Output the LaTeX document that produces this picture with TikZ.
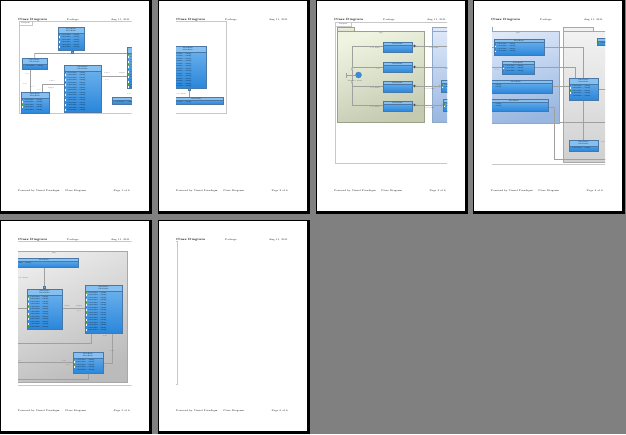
\documentclass[tikz,border=0pt]{standalone}
\usetikzlibrary{arrows.meta,shapes.geometric}
\definecolor{bgC}{HTML}{808080}
\definecolor{frameC}{HTML}{C8C8C8}
\definecolor{connC}{HTML}{A0A0A0}
\definecolor{clsB}{HTML}{4A78A6}
\definecolor{clsT}{HTML}{70B4EE}
\definecolor{clsBt}{HTML}{2A86DA}
\definecolor{clsH}{HTML}{86C0F0}
\definecolor{icoG}{HTML}{3AA040}
\definecolor{grnT}{HTML}{EEF4E0}
\definecolor{grnB}{HTML}{C4CAB0}
\definecolor{grnD}{HTML}{9AA08A}
\definecolor{bluT}{HTML}{DDE8F8}
\definecolor{bluB}{HTML}{98B6E0}
\definecolor{bluD}{HTML}{8FA8C8}
\definecolor{gryT}{HTML}{F2F2F2}
\definecolor{gryB}{HTML}{D0D0D0}
\definecolor{gryD}{HTML}{A8A8A8}
\definecolor{ballC}{HTML}{3A8AD8}
\tikzset{
 hdr/.style={font=\fontsize{3}{3.2}\selectfont\bfseries, inner sep=0},
 ftr/.style={font=\fontsize{2.4}{3}\selectfont, inner sep=0},
 tinytxt/.style={font=\fontsize{1.6}{2}\selectfont, inner sep=0},
 lbl/.style={font=\fontsize{1.6}{2}\selectfont, inner sep=0, text=black!75},
 frameline/.style={draw=frameC, line width=0.8},
 conn/.style={draw=connC, line width=0.6},
 clsnode/.style={draw=clsB, line width=0.5, top color=clsT, bottom color=clsBt, inner sep=0, rectangle},
 symb/.style={fill=clsT, draw=clsB, line width=0.3, inner sep=0, minimum size=2},
 tabbox/.style={draw=frameC, fill=white, line width=0.5, inner sep=0, anchor=north west, font=\fontsize{1.6}{2}\selectfont},
}
\newcommand{\umlclass}[7]{%
 \node[clsnode, anchor=north west, minimum width={#4-#2}, minimum height={#5-#3}] (#1) at (#2,#3) {};
 \pgfmathsetmacro\clshbot{#3+#6*2.6+1}
 \fill[clsH] (#2,#3) rectangle (#4,\clshbot);
 \draw[clsB, line width=0.4] (#2,\clshbot) -- (#4,\clshbot);
 \draw[clsB, line width=0.5] (#1.north west) rectangle (#1.south east);
 \foreach \i in {1,...,#6}{\node[tinytxt] at ({(#2+#4)/2},{#3+0.5+(\i-0.5)*2.6}) {ClassName};}
 \ifnum#7>0
 \foreach \i in {1,...,#7}{
   \ifodd\i \fill[icoG] (#2+0.8,{\clshbot+0.6+(\i-1)*2.5}) rectangle ++(1.3,1.6);
   \else \fill[white] (#2+0.8,{\clshbot+0.6+(\i-1)*2.5}) rectangle ++(1.3,1.6); \fi
   \node[tinytxt,anchor=west] at (#2+2.8,{\clshbot+1.4+(\i-1)*2.5}) {+attribute : String};}
 \fi
}
\begin{document}
\begin{tikzpicture}[x=1pt,y=-1pt]
\fill[bgC] (0,0) rectangle (626,434);
\useasboundingbox (0,0) rectangle (626,434);
% pages
\foreach \px/\py/\n in {1/1/1,159/1/2,317/1/3,474/1/4,1/221/5,159/221/6}{
  \fill[black] (\px-1,\py-1) rectangle (\px+151,\py+213);
  \fill[white] (\px,\py) rectangle (\px+148,\py+210);
  \node[hdr,anchor=west] (hl\n) at (\px+17,\py+18.6) {Class Diagram};
  \node[ftr,anchor=west] (hm\n) at (\px+66,\py+18.8) {Package};
  \node[ftr,anchor=east] (hr\n) at (\px+129,\py+18.8) {Aug 11, 2011};
  \node[ftr,anchor=west] (fl\n) at (\px+17,\py+190) {Powered by Visual Paradigm};
  \node[ftr,anchor=west] (fm\n) at (\px+64,\py+190) {Class Diagram};
  \node[ftr,anchor=east] (fr\n) at (\px+129,\py+190) {Page \n\ of 6};
}
% ================= page 1
\begin{scope}
\clip (18,20) rectangle (131.5,200);
\draw[frameline] (19,21) rectangle (160,113);
\node[tabbox, minimum width=13, minimum height=4] (tab1) at (19,21) {Diagram};
\umlclass{A}{58}{27}{84}{50}{2}{6}
\umlclass{B}{22}{58}{47}{69}{2}{1}
\umlclass{C}{64}{65}{101}{112}{2}{16}
\umlclass{D}{21}{92}{49}{113}{2}{5}
\umlclass{E}{127}{47}{160}{88}{2}{14}
\umlclass{F}{112}{97}{160}{104}{1}{1}
\coordinate (a1) at (72,53.5);
\draw[conn] (A.south) -- (a1) -| (B.north);
\draw[conn] (a1) -- (a1 -| E.west);
\node[symb] (s1) at (72,52) {};
\draw[conn] (B.south -| 30,0) -- (D.north -| 30,0);
\draw[conn] (C.west |- 0,84) -- (42,84) -- (D.north -| 42,0);
\draw[conn] (C.east |- 0,76) -- (E.west |- 0,76);
\node[lbl] at (27,74) {0..1};
\node[lbl] at (25,84) {role};
\node[lbl] at (32,87) {0..*};
\node[lbl] at (52,81) {source};
\node[lbl] at (51,88) {target};
\node[lbl] at (39,90) {0..*};
\node[lbl] at (107,73) {source};
\node[lbl] at (122,73) {target};
\node[lbl] at (107,80) {0..*};
\node[lbl] at (129,94) {role};
\end{scope}
% ================= page 2
\begin{scope}
\clip (176,20) rectangle (290,200);
\draw[frameline] (150,21) rectangle (226,113);
\umlclass{G}{170}{46}{206}{88}{2}{14}
\umlclass{H}{170}{97}{223}{104}{1}{1}
\draw[conn] (G.south -| 189,0) -- (H.north -| 189,0);
\node[symb] (s2) at (189,89.5) {};
\node[lbl,anchor=west] at (176.5,94) {role name};
\end{scope}
% ================= page 3
\begin{scope}
\clip (334,20) rectangle (447,200);
\draw[frameline] (335,22) rectangle (480,163);
\node[tabbox, minimum width=16, minimum height=3.5] (tab3) at (335,22) {Diagram};
\draw[grnD, line width=0.6, top color=grnT, bottom color=grnT!60!grnB] (337,27) rectangle (354,31);
\node[draw=grnD, line width=0.6, top color=grnT, bottom color=grnB, shading angle=20, anchor=north west, minimum width=87, minimum height=91, inner sep=0] (pg) at (337,31) {};
\node[lbl] at (381,33.5) {pkg};
\draw[bluD, line width=0.6, fill=bluT] (432,27) rectangle (470,31);
\node[draw=bluD, line width=0.6, top color=bluT, bottom color=bluB, anchor=north west, minimum width=60, minimum height=91, inner sep=0] (pb) at (432,31) {};
\umlclass{K1}{383}{42}{412}{52}{1}{0}
\umlclass{K2}{383}{62}{412}{72}{1}{0}
\umlclass{K3}{383}{81}{412}{92}{1}{0}
\umlclass{K4}{383}{101}{412}{111}{1}{0}
\umlclass{L3}{441}{80}{470}{92}{1}{2}
\umlclass{L4}{443}{99}{470}{111}{1}{2}
\tikzset{dia/.style={conn,{Diamond[fill=black,length=4,width=3]}-{Straight Barb[length=1.5,width=2.5]}}}
\draw[dia] (K1.east |- 0,46) -- (455,46);
\draw[dia] (K2.east |- 0,67) -- (455,67);
\draw[dia] (K3.east |- 0,86) -- (L3.west |- 0,86);
\draw[dia] (K4.east |- 0,105) -- (L4.west |- 0,105);
\draw[conn] (352,46) -- (352,105);
\draw[conn] (352,46) -- (K1.west |- 0,46);
\draw[conn] (352,67) -- (K2.west |- 0,67);
\draw[conn] (352,86) -- (K3.west |- 0,86);
\draw[conn] (352,105) -- (K4.west |- 0,105);
\node[draw=connC, fill=white, diamond, inner sep=0, minimum width=2, minimum height=3, line width=0.4] (d1) at (352,69) {};
\node[draw=connC, fill=white, diamond, inner sep=0, minimum width=2, minimum height=3, line width=0.4] (d2) at (352,82) {};
\node[circle, fill=ballC, draw=clsB, line width=0.3, minimum size=6, inner sep=0] (ball) at (358.5,75) {};
\coordinate (bt) at (346,75);
\draw[conn] (bt) -- (ball.west);
\draw[conn] (346,72.5) -- (346,77.5);
\node[lbl] at (355,81.2) {Interface name};
\node[lbl,anchor=east] at (380,48) {role name};
\node[lbl,anchor=east] at (380,68.5) {role};
\node[lbl,anchor=east] at (380,87.5) {role name};
\node[lbl,anchor=east] at (380,106.5) {role name};
\node[lbl] at (434,48) {role name};
\node[lbl] at (447,69) {role};
\node[lbl] at (430,88.5) {role name};
\node[lbl] at (430,108) {role name};
\end{scope}
% ================= page 4
\begin{scope}
\clip (492,20) rectangle (605,200);
\draw[frameline] (470,164) -- (640,164);
\draw[bluD, line width=0.6, fill=bluT] (470,27) rectangle (492,31);
\node[draw=bluD, line width=0.6, top color=bluT, bottom color=bluB, shading angle=15, anchor=north west, minimum width=89, minimum height=92, inner sep=0] (pb4) at (470,31) {};
\node[lbl] at (518,33.5) {pkg};
\draw[gryD, line width=0.6, fill=gryT] (563,27) rectangle (593,31);
\node[draw=gryD, line width=0.6, top color=gryT, bottom color=gryB, anchor=north west, minimum width=70, minimum height=131, inner sep=0] (pg4) at (563,31) {};
\umlclass{M1}{494}{39}{544}{55}{1}{4}
\umlclass{M2}{502}{61}{534}{74}{1}{3}
\umlclass{M3}{480}{80}{552}{93}{1}{2}
\umlclass{M4}{480}{99}{548}{111}{1}{2}
\umlclass{N1}{569}{78}{598}{100}{2}{5}
\umlclass{N2}{569}{140}{598}{151}{2}{1}
\umlclass{N3}{597}{38}{630}{45}{1}{1}
\draw[conn] (480,47) -- (M1.west |- 0,47);
\draw[conn] (480,67) -- (M2.west |- 0,67);
\draw[conn] (M1.east |- 0,47) -| (N1.north -| 583,0);
\draw[conn] (M2.east |- 0,67) -| (N1.north -| 575,0);
\draw[conn] (M3.east |- 0,86) -- (N1.west |- 0,86);
\draw[conn] (M4.east |- 0,107) -- (554,107) -- (554,159) -- (640,159);
\draw[conn] (N1.south -| 583,0) -- (N2.north -| 583,0);
\draw[conn] (N1.east |- 0,89) -- (640,89);
\draw[conn] (pb4.south east |- 0,122) -- (640,122);
\node[lbl] at (497,69.5) {role};
\node[lbl] at (604,58) {--};
\node[lbl] at (603,142) {role};
\end{scope}
% ================= page 5
\begin{scope}
\clip (18,238) rectangle (131.5,420);
\draw[frameline] (10,241) rectangle (140,385);
\node[draw=gryD, line width=0.6, top color=gryT!80!gryB, bottom color=gryB!90!black, shading angle=25, anchor=north west, minimum width=117, minimum height=131, inner sep=0] (p5) at (10,251) {};
\node[lbl] at (54,253.5) {pkg};
\umlclass{P}{10}{258}{78}{267}{1}{1}
\umlclass{Q}{27}{289}{62}{329}{2}{13}
\umlclass{R}{85}{285}{122}{333}{2}{16}
\umlclass{S}{73}{352}{103}{373}{2}{5}
\draw[conn] (P.south -| 44,0) -- (Q.north -| 44,0);
\node[symb] (s5) at (44,287.5) {};
\node[lbl,anchor=west] at (18.5,278) {role name};
\draw[conn] (Q.east |- 0,308) -- (R.west |- 0,308);
\draw[conn] (10,308) -- (Q.west |- 0,308);
\draw[conn] (R.south -| 91,0) -- (91,343) -- (10,343);
\draw[conn] (R.south -| 112,0) -- (112,363) -- (S.east |- 0,363);
\draw[conn] (S.west |- 0,362) -- (10,362);
\draw[conn] (S.south -| 88,0) -- (88,379) -- (10,379);
\node[lbl] at (67,306) {source};
\node[lbl] at (79,306) {target};
\node[lbl] at (79,311) {0..*};
\node[lbl] at (105,336) {role};
\node[lbl] at (112,351) {role};
\node[lbl] at (104,367) {0..*};
\node[lbl] at (64,361) {role};
\node[lbl] at (68,365) {0..1};
\node[lbl] at (19,361) {0..*};
\end{scope}
% ================= page 6
\begin{scope}
\clip (176,238) rectangle (290,420);
\draw[frameline] (150,241) rectangle (177,384);
\end{scope}
\end{tikzpicture}
\end{document}
